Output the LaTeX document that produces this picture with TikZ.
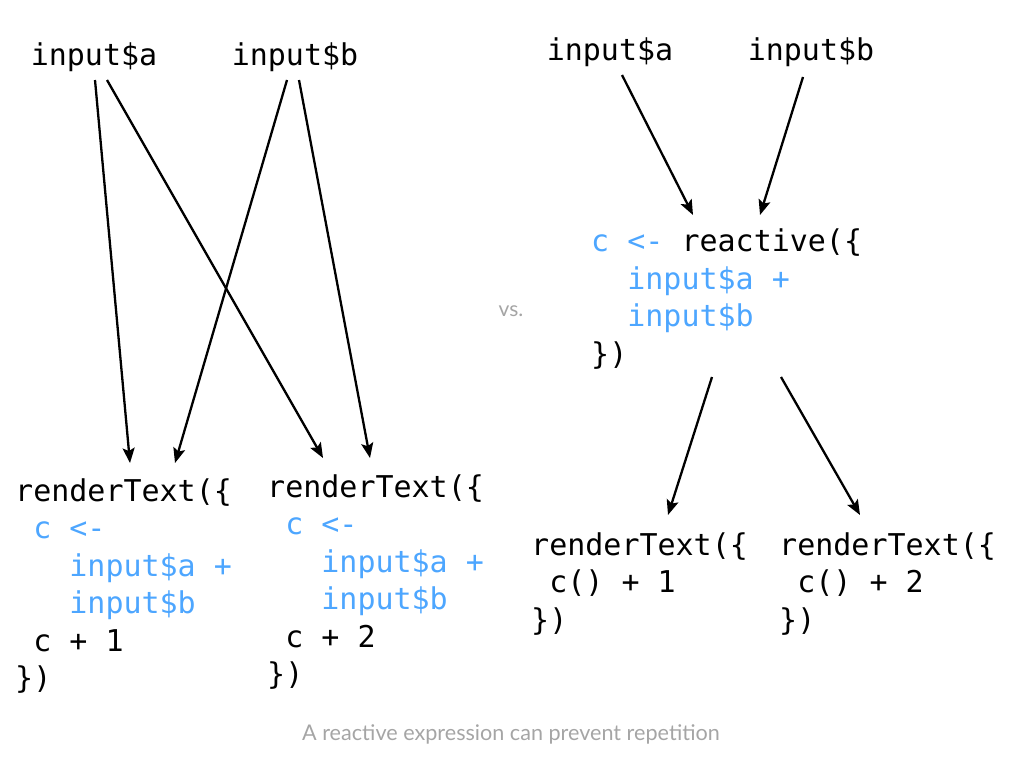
\documentclass[tikz,border=0pt]{standalone}
\usepackage{fontspec}
\setmainfont{Lato}
\setmonofont{DejaVu Sans Mono}
\usetikzlibrary{arrows.meta,calc}
\definecolor{codeblue}{RGB}{77,166,255}
\definecolor{capgrey}{RGB}{165,165,165}
\newcommand{\cs}{\hphantom{x}}
\newcommand{\bl}[1]{\textcolor{codeblue}{#1}}
\begin{document}
\begin{tikzpicture}[x=1pt,y=-1pt,
  code/.style={font=\fontsize{30}{37.5}\selectfont\ttfamily, align=left, inner sep=0pt},
  flow/.style={line width=2.3pt, -{Stealth[length=15pt,width=12pt,inset=3pt]}}]
\useasboundingbox (0,0) rectangle (1024,768);
% left side
\node[code] (ia) at (94,57) {input\$a};
\node[code] (ib) at (295,57) {input\$b};
\node[code, anchor=north west] (lb1) at (15,478) {renderText(\{\\
\cs\bl{c <-}\\
\cs\cs\cs\bl{input\$a +}\\
\cs\cs\cs\bl{input\$b}\\
\cs c + 1\\
\})};
\node[code, anchor=north west] (lb2) at (267,474) {renderText(\{\\
\cs\bl{c <-}\\
\cs\cs\cs\bl{input\$a +}\\
\cs\cs\cs\bl{input\$b}\\
\cs c + 2\\
\})};
\draw[flow] ($(ia)+(1,23)$) -- ($(lb1.north west)+(115,-15)$);
\draw[flow] ($(ia)+(13,23)$) -- ($(lb2.north west)+(56,-16)$);
\draw[flow] ($(ib)+(-8,23)$) -- ($(lb1.north west)+(160,-15)$);
\draw[flow] ($(ib)+(4,23)$) -- ($(lb2.north west)+(103,-16)$);
% middle
\node[font=\fontsize{21}{24}\selectfont, text=capgrey] (vs) at (511,311) {vs.};
% right side
\node[code] (ra) at (610,52) {input\$a};
\node[code] (rb) at (811,52) {input\$b};
\node[code, anchor=north west] (rx) at (591,229) {\bl{c <-} reactive(\{\\
\cs\cs\bl{input\$a +}\\
\cs\cs\bl{input\$b}\\
\})};
\node[code, anchor=north west] (rr1) at (531,532) {renderText(\{\\
\cs c() + 1\\
\})};
\node[code, anchor=north west] (rr2) at (779,532) {renderText(\{\\
\cs c() + 2\\
\})};
\draw[flow] ($(ra)+(12,23)$) -- ($(rx.north west)+(102,-14)$);
\draw[flow] ($(rb)+(-8,25)$) -- ($(rx.north west)+(169,-14)$);
\draw[flow] ($(rx.north west)+(121,148)$) -- ($(rr1.north west)+(137,-17)$);
\draw[flow] ($(rx.north west)+(190,148)$) -- ($(rr2.north west)+(81,-17)$);
% caption
\node[font=\fontsize{21.6}{24}\selectfont, text=capgrey] (cap) at (511,734) {A reactive expression can prevent repetition};
\end{tikzpicture}
\end{document}
